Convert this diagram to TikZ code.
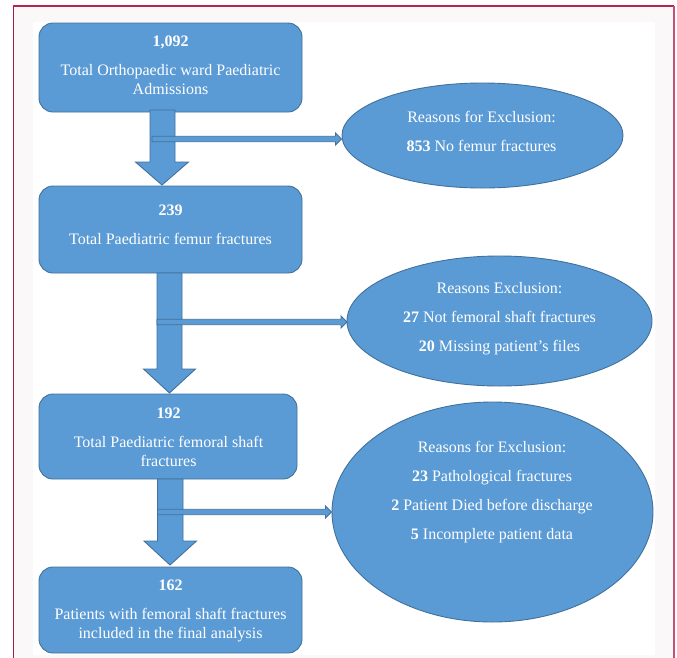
\documentclass[tikz,border=0pt]{standalone}
\usepackage{fontspec}
\setmainfont{Liberation Serif}
\usetikzlibrary{calc,shapes.geometric}
\definecolor{boxfill}{HTML}{5B9BD5}
\definecolor{boxline}{HTML}{41719C}
\definecolor{framecol}{HTML}{B8244E}
\definecolor{framebg}{HTML}{FBF8FA}
\tikzset{
  box/.style={draw=boxline, fill=boxfill, line width=0.9pt, rounded corners=14pt, inner sep=0pt},
  oval/.style={draw=boxline, fill=boxfill, line width=0.9pt, ellipse, inner sep=0pt},
  txt/.style={text=white, align=center, inner sep=0pt, font=\fontsize{16}{19}\selectfont},
  blockar/.style={draw=boxline, fill=boxfill, line width=0.9pt, line join=miter},
  thinar/.style={draw=boxline, fill=boxfill, line width=0.8pt, line join=miter},
}
\newcommand\thinarrow[2]{%
  \draw[thinar] let \p1=(#1), \p2=(#2) in
    (\x1,\y1+2.7pt) -- (\x2-6pt,\y1+2.7pt) -- (\x2-6pt,\y1+6pt) -- (\x2,\y1)
    -- (\x2-6pt,\y1-6pt) -- (\x2-6pt,\y1-2.7pt) -- (\x1,\y1-2.7pt) -- cycle;}
\begin{document}
\begin{tikzpicture}[x=1pt,y=-1pt]
\useasboundingbox (0,0) rectangle (677,657);
% frame
\fill[framebg] (13,6) rectangle (674,660);
\fill[white] (33,22) rectangle (655,655);
\draw[framecol!85!black, line width=1.2pt] (13.5,660) -- (13.5,6);
\draw[framecol, line width=1.4pt] (13,6) -- (674,6);
\draw[framecol!80!white, line width=2pt] (673.5,6) -- (673.5,660);

% boxes
\node[box, minimum width=263pt, minimum height=89pt] (b1) at (170.5,67.5) {};
\node[box, minimum width=263pt, minimum height=87pt] (b2) at (170.5,229.5) {};
\node[box, minimum width=258pt, minimum height=85pt] (b3) at (168,436.5) {};
\node[box, minimum width=263pt, minimum height=86pt] (b4) at (170.5,610) {};

% ellipses
\node[oval, minimum width=281pt, minimum height=105pt] (e1) at (482.5,135.5) {};
\node[oval, minimum width=305pt, minimum height=130pt] (e2) at (499.5,321) {};
\node[oval, minimum width=321pt, minimum height=220pt] (e3) at (492.5,512) {};

% block arrows
\draw[blockar] (150,110) -- (175,110) -- (175,162) -- (188.5,162) -- (162,185)
  -- (135.5,162) -- (150,162) -- cycle;
\draw[blockar] (157,273) -- (182,273) -- (182,369) -- (195.5,369) -- (169.5,393)
  -- (143.5,369) -- (157,369) -- cycle;
\draw[blockar] (157.5,479) -- (183,479) -- (183,541) -- (196.5,541) -- (170,565)
  -- (144,541) -- (157.5,541) -- cycle;

% thin arrows
\coordinate (s1) at (152,139);
\coordinate (s2) at (157,322);
\coordinate (s3) at (157.5,512);
\coordinate (f1) at (341.5,139);
\coordinate (f2) at (347,322);
\coordinate (f3) at (331.5,512);
\thinarrow{s1}{f1}
\thinarrow{s2}{f2}
\thinarrow{s3}{f3}

% texts
\node[txt] (t1) at (170.5,65.5) {\textbf{1,092}\\[10pt]Total Orthopaedic ward Paediatric\\Admissions};
\node[txt] (t2) at (170.5,224.5) {\textbf{239}\\[10pt]Total Paediatric femur fractures};
\node[txt] (t3) at (168.5,437) {\textbf{192}\\[10pt]Total Paediatric femoral shaft\\fractures};
\node[txt] (t4) at (170.5,611) {\textbf{162}\\[10pt]Patients with femoral shaft fractures\\included in the final analysis};
\node[txt] (te1) at (481.5,131) {Reasons for Exclusion:\\[10pt]\textbf{853} No femur fractures};
\node[txt] (te2) at (499.5,319) {Reasons Exclusion:\\[10pt]\textbf{27} Not femoral shaft fractures\\[10pt]\textbf{20} Missing patient’s files};
\node[txt] (te3) at (492,492) {Reasons for Exclusion:\\[10pt]\textbf{23} Pathological fractures\\[10pt]\textbf{2} Patient Died before discharge\\[10pt]\textbf{5} Incomplete patient data};
\end{tikzpicture}
\end{document}
